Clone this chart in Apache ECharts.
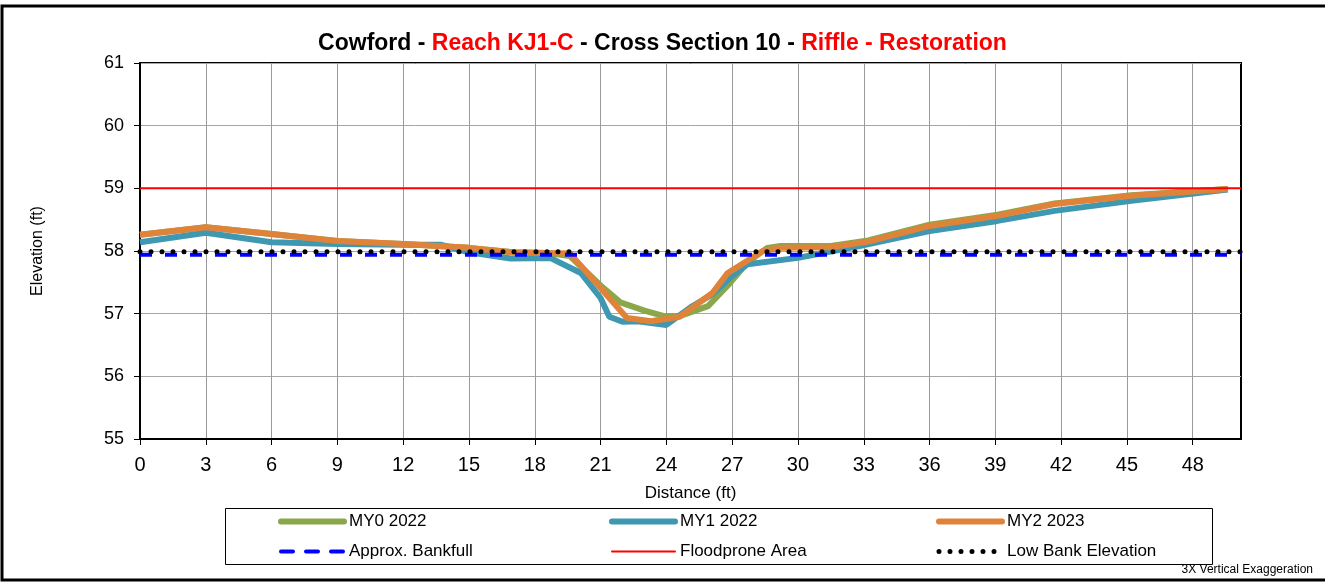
<!DOCTYPE html>
<html>
<head>
<meta charset="utf-8">
<title>Cross Section 10</title>
<script src="https://cdn.jsdelivr.net/npm/echarts@6/dist/echarts.min.js"></script>
</head>
<body style="margin:0">
<div id="main" style="width:1325px;height:582px;"></div>
<script type="text/javascript">
// survey points
var my0X = [0, 3, 6, 9, 12, 15, 17, 18.5, 19.6, 21.0, 21.9, 23.0, 23.9, 24.6, 25.9, 26.8, 27.7, 28.6, 29.2, 31.5, 33.2, 36.0, 39.1, 41.7, 45.2, 49.6];
var my0Y = [58.26, 58.38, 58.27, 58.16, 58.11, 58.05, 57.98, 57.97, 57.92, 57.45, 57.18, 57.05, 56.96, 56.96, 57.12, 57.45, 57.82, 58.05, 58.08, 58.08, 58.17, 58.42, 58.58, 58.76, 58.89, 58.99];
var my1X = [0, 3, 6, 9, 12, 13.7, 15, 16.9, 18.7, 20.1, 21.0, 21.4, 22.0, 22.7, 24.0, 25.1, 26.1, 26.9, 27.7, 30.0, 32.8, 36.0, 39.1, 41.7, 45.2, 49.6];
var my1Y = [58.14, 58.29, 58.14, 58.11, 58.10, 58.10, 57.98, 57.88, 57.89, 57.65, 57.25, 56.95, 56.87, 56.88, 56.82, 57.10, 57.31, 57.57, 57.79, 57.89, 58.08, 58.32, 58.48, 58.64, 58.80, 58.98];
var my2X = [0, 3, 6, 9, 12, 15, 17, 18.5, 19.6, 21.0, 22.2, 23.3, 24.6, 26.1, 26.8, 28.4, 29.2, 31.5, 33.2, 36.0, 39.1, 41.7, 45.2, 49.6];
var my2Y = [58.26, 58.38, 58.27, 58.16, 58.11, 58.05, 57.98, 57.97, 57.96, 57.41, 56.93, 56.88, 56.95, 57.33, 57.65, 58.00, 58.05, 58.06, 58.15, 58.40, 58.56, 58.75, 58.88, 58.99];
var refX = [0, 50.2];
var bankfullY = 57.94;
var floodY = 59;
var lowBankY = 57.99;
var xTicks = [0, 3, 6, 9, 12, 15, 18, 21, 24, 27, 30, 33, 36, 39, 42, 45, 48];

function pairs(xs, ys) {
	var out = [];
	for (var i = 0; i < xs.length; i++) out.push([xs[i], ys[i]]);
	return out;
}
function flat(y) {
	return refX.map(function (x) { return [x, y]; });
}

var font = 'Liberation Sans, Arial, sans-serif';
var myChart = echarts.init(document.getElementById('main'));
var legendBase = {
	orient: 'vertical', top: 513, itemWidth: 63, itemHeight: 14, itemGap: 13, padding: 0,
	itemStyle: { opacity: 0 },
	lineStyle: { width: 'inherit', type: 'inherit', cap: 'round' },
	textStyle: { fontFamily: font, fontSize: 17, color: '#000' }
};
var option = {
	animation: false,
	backgroundColor: '#fff',
	title: {
		left: 'center', top: 27,
		text: '{b|Cowford - }{r|Reach KJ1-C}{b| - Cross Section 10 - }{r|Riffle - Restoration}',
		textStyle: {
			rich: {
				b: { fontFamily: font, fontSize: 23, fontWeight: 'bold', color: '#000' },
				r: { fontFamily: font, fontSize: 23, fontWeight: 'bold', color: '#ff0000' }
			}
		}
	},
	legend: [
		Object.assign({ left: 278, data: ['MY0 2022', 'Approx. Bankfull'] }, legendBase),
		Object.assign({ left: 609, data: ['MY1 2022', 'Floodprone Area'] }, legendBase),
		Object.assign({ left: 936, data: ['MY2 2023', 'Low Bank Elevation'] }, legendBase)
	],
	grid: { left: 140, right: 84, top: 63, bottom: 143, show: true, borderColor: '#000', borderWidth: 2 },
	xAxis: {
		type: 'value', min: 0, max: 50.2,
		name: 'Distance (ft)', nameLocation: 'middle', nameGap: 46,
		nameTextStyle: { fontFamily: font, fontSize: 17, color: '#000' },
		axisLine: { lineStyle: { color: '#000', width: 2 } },
		axisTick: { length: 6, customValues: xTicks, lineStyle: { color: '#000' } },
		axisLabel: { customValues: xTicks, fontFamily: font, fontSize: 20, color: '#000', margin: 16 },
		splitLine: { show: true, lineStyle: { color: '#9a9a9a', width: 1 } }
	},
	yAxis: {
		type: 'value', min: 55, max: 61, interval: 1,
		name: 'Elevation (ft)', nameLocation: 'middle', nameGap: 94,
		nameTextStyle: { fontFamily: font, fontSize: 16, color: '#000' },
		axisLine: { show: true, lineStyle: { color: '#000', width: 2 } },
		axisTick: { show: true, length: 6, lineStyle: { color: '#000' } },
		axisLabel: { fontFamily: font, fontSize: 18, color: '#000', margin: 16 },
		splitLine: { lineStyle: { color: '#a6a6a6', width: 1 } }
	},
	graphic: [
		{ type: 'rect', left: 223, top: 506, shape: { width: 987, height: 56 },
		  style: { fill: 'none', stroke: '#000', lineWidth: 1 } },
		{ type: 'rect', shape: { x: 2, y: 6, width: 1340, height: 574 },
		  style: { fill: 'none', stroke: '#000', lineWidth: 3 } },
		{ type: 'text', right: 12, top: 564,
		  style: { text: '3X Vertical Exaggeration', font: '12px ' + font, fill: '#000' } }
	],
	series: [
		{ name: 'MY0 2022', type: 'line', symbol: 'none', data: pairs(my0X, my0Y),
		  itemStyle: { color: '#8aa84b' }, lineStyle: { color: '#8aa84b', width: 6 } },
		{ name: 'MY1 2022', type: 'line', symbol: 'none', data: pairs(my1X, my1Y),
		  itemStyle: { color: '#3e98b2' }, lineStyle: { color: '#3e98b2', width: 6 } },
		{ name: 'MY2 2023', type: 'line', symbol: 'none', data: pairs(my2X, my2Y),
		  itemStyle: { color: '#e0833a' }, lineStyle: { color: '#e0833a', width: 6 } },
		{ name: 'Floodprone Area', type: 'line', symbol: 'none', data: flat(floodY),
		  itemStyle: { color: '#ff0000' }, lineStyle: { color: '#ff0000', width: 2 } },
		{ name: 'Approx. Bankfull', type: 'line', symbol: 'none', data: flat(bankfullY),
		  itemStyle: { color: '#0000ff' }, lineStyle: { color: '#0000ff', width: 4, type: [12, 13] } },
		{ name: 'Low Bank Elevation', type: 'line', symbol: 'none', data: flat(lowBankY),
		  itemStyle: { color: '#000' }, lineStyle: { color: '#000', width: 5, type: [0, 11], cap: 'round' } }
	]
};
myChart.setOption(option);
</script>
</body>
</html>
